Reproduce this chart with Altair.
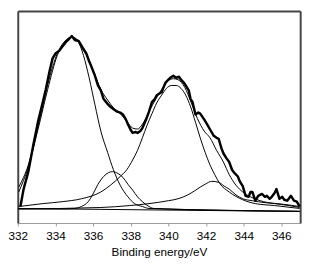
import altair as alt
import pandas as pd

# Experimental spectrum (thick, noisy)
EXP_E = [332.14, 332.31, 332.56, 332.82, 333.08, 333.33, 333.49, 333.69, 333.85, 334.00,
         334.21, 334.36, 334.56, 334.72, 334.87, 335.03, 335.23, 335.44, 335.64, 335.79,
         335.90, 336.10, 336.26, 336.41, 336.56, 336.77, 336.92, 337.13, 337.28, 337.44,
         337.59, 337.74, 337.85, 338.00, 338.10, 338.26, 338.36, 338.51, 338.62, 338.82,
         338.97, 339.13, 339.28, 339.38, 339.54, 339.64, 339.74, 339.85, 340.00, 340.10,
         340.26, 340.41, 340.56, 340.67, 340.82, 340.92, 341.08, 341.18, 341.28, 341.44,
         341.59, 341.69, 341.90, 342.05, 342.26, 342.41, 342.56, 342.67, 342.82, 342.92,
         343.08, 343.23, 343.38, 343.49, 343.69, 343.79, 343.95, 344.10, 344.26, 344.36,
         344.46, 344.62, 344.77, 344.97, 345.13, 345.23, 345.38, 345.49, 345.64, 345.74,
         345.90, 346.05, 346.15, 346.31, 346.51, 346.67, 346.82, 346.97]
EXP_I = [17, 35, 53, 80, 105, 125, 138, 157, 170, 175,
         178, 182, 187, 190, 193, 189, 188, 181, 175, 167,
         162, 152, 142, 137, 128, 123, 120, 117, 115, 114,
         112, 107, 102, 96, 93, 94, 93, 95, 98, 107,
         115, 125, 128, 132, 134, 135, 140, 145, 148, 150,
         152, 150, 151, 148, 145, 142, 137, 128, 125, 112,
         114, 113, 107, 102, 95, 90, 88, 87, 77, 72,
         67, 63, 55, 52, 48, 43, 38, 28, 27, 32,
         32, 23, 28, 30, 27, 28, 25, 27, 31, 35,
         25, 27, 24, 23, 28, 23, 22, 17]

# Fitted envelope
ENV_E = [332.05, 332.56, 333.08, 333.59, 334.10, 334.51, 334.87, 335.23, 335.64, 336.05,
         336.41, 336.77, 337.08, 337.44, 337.79, 338.10, 338.36, 338.62, 338.97, 339.33,
         339.64, 340.00, 340.26, 340.51, 340.87, 341.18, 341.54, 341.90, 342.21, 342.56,
         342.92, 343.23, 343.59, 343.95, 344.36, 344.87, 345.64, 346.41, 346.97]
ENV_I = [37, 60, 100, 143, 175, 188, 192, 188, 175, 155,
         138, 127, 119, 113, 105, 98, 97, 102, 115, 128,
         138, 147, 149, 148, 140, 126, 108, 95, 88, 75,
         63, 50, 39, 32, 27, 23, 20, 18, 16]

# Component 1 (~334.9 eV)
C1_E = [332.05, 332.56, 333.08, 333.59, 334.10, 334.51, 334.87, 335.18, 335.49, 335.79,
        336.10, 336.41, 336.77, 337.08, 337.44, 337.85, 338.20, 338.62, 338.97, 342.0, 346.97]
C1_I = [32, 58, 97, 138, 173, 187, 192, 188, 173, 150,
        122, 95, 73, 55, 39, 27, 20, 17, 15, 13.5, 12]

# Component 2 (~337.0 eV)
C2_E = [332.05, 334.36, 335.03, 335.38, 335.74, 336.00, 336.26, 336.56, 336.82, 337.03,
        337.33, 337.59, 337.85, 338.10, 338.36, 338.62, 338.97, 339.23, 346.97]
C2_I = [14.5, 14.5, 15, 17, 22, 30, 40, 48, 52, 53,
        51, 47, 40, 34, 27, 22, 17, 15, 12]

# Component 3 (~340.2 eV)
C3_E = [332.05, 333.33, 334.36, 335.38, 336.41, 336.92, 337.44, 337.79, 338.10, 338.36,
        338.62, 338.87, 339.13, 339.38, 339.64, 339.90, 340.15, 340.41, 340.67, 340.92,
        341.18, 341.44, 341.69, 341.95, 342.21, 342.46, 342.72, 343.23, 343.95, 344.62,
        345.64, 346.97]
C3_I = [17, 20, 22, 25, 32, 39, 48, 55, 65, 75,
        88, 101, 113, 124, 132, 139, 142, 142, 139, 132,
        120, 104, 88, 73, 60, 50, 41, 32, 24, 20,
        18, 15]

# Component 4 (~342.3 eV)
C4_E = [332.05, 336.41, 337.95, 338.97, 340.00, 340.51, 341.03, 341.38, 341.69, 341.95,
        342.31, 342.67, 342.97, 343.23, 343.59, 343.95, 344.46, 345.13, 345.79, 346.97]
C4_I = [14.5, 16, 18, 20, 23, 25, 29, 33, 37, 40,
        43, 42, 38, 35, 29, 25, 23, 21, 20, 17]

# Background
BASE_E = [332.0, 341.5, 347.0]
BASE_I = [15, 13, 12]

TICKS = [332, 334, 336, 338, 340, 342, 344, 346]


def frame(e, i, name):
    return pd.DataFrame({"E": e, "I": i, "s": name})


thin = pd.concat([
    frame(ENV_E, ENV_I, "envelope"),
    frame(C1_E, C1_I, "c1"),
    frame(C2_E, C2_I, "c2"),
    frame(C3_E, C3_I, "c3"),
    frame(C4_E, C4_I, "c4"),
    frame(BASE_E, BASE_I, "base"),
], ignore_index=True)
thick = frame(EXP_E, EXP_I, "exp")
box = frame(BASE_E, BASE_I, "box")

xscale = alt.Scale(domain=[332, 347], nice=False, zero=False)
yscale = alt.Scale(domain=[0, 219], nice=False, zero=False)

x_bottom = alt.X("E:Q", scale=xscale, axis=alt.Axis(
    orient="bottom", values=TICKS, format="d", grid=False,
    labelFlush=False, labelOverlap=False, labelBound=False,
    title="Binding energy/eV", domainColor="#9a9a9a", domainWidth=1,
    tickColor="#9a9a9a", tickSize=3, labelFont="Liberation Sans",
    labelFontSize=12, labelColor="black", labelPadding=5,
    titleFont="Liberation Sans", titleFontSize=12, titleFontWeight="normal",
    titleColor="black", titlePadding=5))
y_left = alt.Y("I:Q", scale=yscale, axis=alt.Axis(
    orient="left", labels=False, ticks=False, grid=False, title=None,
    domainColor="#444444", domainWidth=2))

thin_layer = alt.Chart(thin).mark_line(
    color="black", strokeWidth=1, interpolate="monotone"
).encode(x=x_bottom, y=y_left, detail="s:N")

thick_layer = alt.Chart(thick).mark_line(
    color="black", strokeWidth=2.5, strokeJoin="round"
).encode(
    x=alt.X("E:Q", scale=xscale, axis=None),
    y=alt.Y("I:Q", scale=yscale, axis=None),
)

frame_layer = alt.Chart(box).mark_line(opacity=0).encode(
    x=alt.X("E:Q", scale=xscale, axis=alt.Axis(
        orient="top", labels=False, ticks=False, grid=False, title=None,
        domainColor="#444444", domainWidth=2)),
    y=alt.Y("I:Q", scale=yscale, axis=alt.Axis(
        orient="right", labels=False, ticks=False, grid=False, title=None,
        domainColor="#444444", domainWidth=2)),
)

chart = alt.layer(thin_layer, thick_layer, frame_layer).resolve_axis(
    x="independent", y="independent"
).properties(
    width=289, height=217,
    autosize=alt.AutoSizeParams(type="none"),
    padding={"left": 10, "top": 0, "right": 8, "bottom": 40},
    background="white",
).configure_view(stroke=None)

chart.save("out.html", embed_options={"renderer": "svg", "actions": False})
